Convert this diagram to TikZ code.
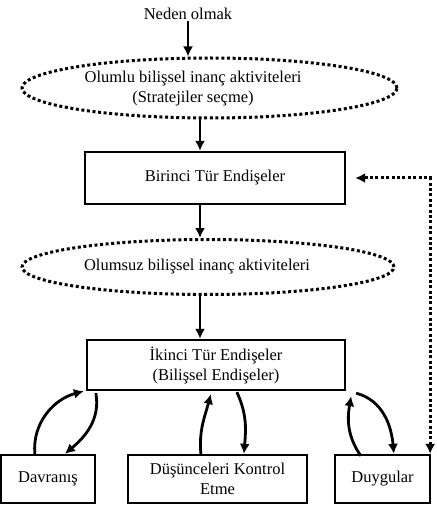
\documentclass[tikz,border=0pt]{standalone}
\usepackage{fontspec}
\setmainfont{Liberation Serif}
\usetikzlibrary{arrows.meta,shapes.geometric,calc}
\begin{document}
\begin{tikzpicture}[x=1pt,y=1pt,
 font=\fontsize{16.5}{20}\selectfont,
 box/.style={draw,line width=2.3pt,inner sep=0pt,align=center},
 ell/.style={ellipse,draw,line width=3pt,dash pattern=on 3pt off 2.6pt,inner sep=0pt},
 txt/.style={align=center,inner sep=1pt},
 arr/.style={line width=2.8pt,-{Latex[length=10pt,width=10pt]}},
 dotarr/.style={line width=3pt,dash pattern=on 3pt off 2.4pt,{Latex[length=10pt,width=10pt]}-{Latex[length=10pt,width=10pt]}}]
\useasboundingbox (0,0) rectangle (436,-510);

\node[txt] (cause) at (188,-14) {Neden olmak};
\node[ell,minimum width=375pt,minimum height=60pt] (e1) at (209.5,-88) {};
\node[txt] (t1) at (193,-89) {Olumlu bilişsel inanç aktiviteleri\\(Stratejiler seçme)};
\node[box,minimum width=260pt,minimum height=52pt] (b1) at (215,-178) {Birinci Tür Endişeler};
\node[ell,minimum width=372pt,minimum height=55pt] (e2) at (208,-267) {};
\node[txt] (t2) at (197,-267) {Olumsuz bilişsel inanç aktiviteleri};
\node[box,minimum width=258pt,minimum height=50pt] (b2) at (216,-365) {İkinci Tür Endişeler\\(Bilişsel Endişeler)};
\node[box,minimum width=94pt,minimum height=48pt] (davr) at (48,-479) {Davranış};
\node[box,minimum width=179pt,minimum height=48pt] (dusun) at (217.5,-479) {Düşünceleri Kontrol\\Etme};
\node[box,minimum width=95pt,minimum height=48pt] (duyg) at (382.5,-479) {Duygular};

\draw[arr] (cause.south) -- (cause.south |- e1.north);
\draw[arr] ([xshift=-9.5pt]e1.south) -- ([xshift=-15pt]b1.north);
\draw[arr] ([xshift=-15pt]b1.south) -- ([xshift=-8pt]e2.north);
\draw[arr] ([xshift=-8pt]e2.south) -- ([xshift=-16pt]b2.north);

\draw[arr] ($(davr.north west)+(35,0)$) to[out=95,in=195] ($(b2.south west)+(-2,0)$);
\draw[arr] ($(b2.south west)+(10,-2)$) to[out=-80,in=40] ($(davr.north west)+(65,0)$);
\draw[arr] ($(dusun.north west)+(74,0)$) to[out=95,in=255] ($(b2.south west)+(125,-3)$);
\draw[arr] ($(b2.south west)+(151,-1)$) to[out=-65,in=85] ($(dusun.north west)+(117,0)$);
\draw[arr] ($(duyg.north west)+(27,-2)$) to[out=125,in=260] ($(b2.south east)+(5,-5)$);
\draw[arr] ($(b2.south east)+(10,-2)$) to[out=-15,in=95] ($(duyg.north west)+(60,0)$);

\draw[dotarr] ([xshift=-1pt]duyg.north east) |- ([xshift=9pt]b1.east);
\end{tikzpicture}
\end{document}
